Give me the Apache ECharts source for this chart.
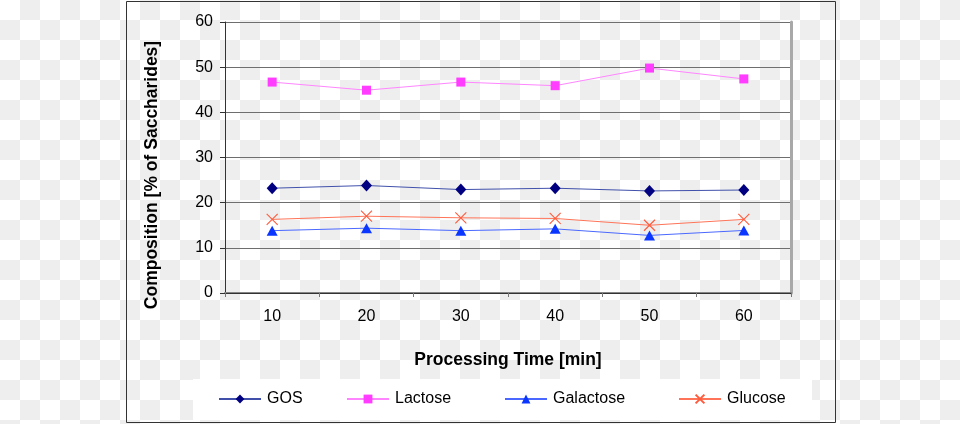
<!DOCTYPE html>
<html>
<head>
<meta charset="utf-8">
<script src="https://cdn.jsdelivr.net/npm/echarts@6/dist/echarts.min.js"></script>
<style>
html,body{margin:0;padding:0;width:960px;height:424px;overflow:hidden;
background-color:#fff;
background-image:conic-gradient(#eeeeee 25%, #ffffff 0 50%, #eeeeee 0 75%, #ffffff 0);
background-size:40px 40px;background-position:0 0;}
#chart{width:960px;height:424px;}
</style>
</head>
<body>
<div id="chart"></div>
<script>
const categories = ['10', '20', '30', '40', '50', '60'];
const gos = [23.2, 23.8, 22.9, 23.2, 22.6, 22.8];
const lactose = [46.7, 44.9, 46.7, 45.9, 49.8, 47.4];
const galactose = [13.8, 14.35, 13.8, 14.2, 12.75, 13.85];
const glucose = [16.3, 17.0, 16.65, 16.5, 15.0, 16.3];
const seriesNames = ['GOS', 'Lactose', 'Galactose', 'Glucose'];
const yMin = 0, yMax = 60, yStep = 10;
const xTitle = 'Processing Time [min]';
const yTitle = 'Composition [% of Saccharides]';

const FONT = '"Liberation Sans", Arial, sans-serif';
const crossPath = 'path://M0,0L10,10M10,0L0,10';

const chart = echarts.init(document.getElementById('chart'), null, {renderer: 'canvas'});

function legendFor(name, left) {
  return {
    data: [name], left: left, top: 391, padding: 0,
    itemWidth: 42, itemHeight: 11, itemGap: 0,
    textStyle: {fontFamily: FONT, fontSize: 16, color: '#000', lineHeight: 16, padding: [0, 0, 0, 1]}
  };
}

chart.setOption({
  backgroundColor: 'transparent',
  animation: false,
  textStyle: {fontFamily: FONT},
  graphic: [
    {type: 'rect', z: 0, silent: true,
     shape: {x: 126.5, y: 1.5, width: 709, height: 421},
     style: {fill: 'none', stroke: '#333', lineWidth: 1}},
    {type: 'rect', z: 0, silent: true,
     shape: {x: 193, y: 379, width: 619, height: 41},
     style: {fill: '#fff'}},
    {type: 'text', z: 5, silent: true, x: 152, y: 175, rotation: Math.PI / 2,
     style: {text: yTitle, font: 'bold 17.5px ' + FONT, fill: '#000',
             align: 'center', verticalAlign: 'middle'}}
  ],
  legend: [
    legendFor('GOS', 218),
    legendFor('Lactose', 346),
    legendFor('Galactose', 504),
    legendFor('Glucose', 678)
  ],
  grid: {left: 225, top: 22, right: 169, bottom: 131, containLabel: false},
  xAxis: [{
    type: 'category', data: categories, boundaryGap: true, position: 'bottom',
    name: xTitle, nameLocation: 'middle', nameGap: 58,
    nameTextStyle: {fontFamily: FONT, fontSize: 17.5, fontWeight: 'bold', color: '#000'},
    axisLine: {lineStyle: {color: '#858585', width: 2}},
    axisTick: {show: true, length: 4, lineStyle: {color: '#777', width: 1}},
    axisLabel: {fontFamily: FONT, fontSize: 16, color: '#000', margin: 16},
    splitLine: {show: false}
  }, {
    type: 'category', data: categories, boundaryGap: true, position: 'top',
    axisLine: {lineStyle: {color: '#333', width: 1}},
    axisTick: {show: false}, axisLabel: {show: false}, splitLine: {show: false}
  }],
  yAxis: [{
    type: 'value', min: yMin, max: yMax, interval: yStep, position: 'left',
    axisLine: {show: true, lineStyle: {color: '#333', width: 1}},
    axisTick: {show: true, length: 5, lineStyle: {color: '#333'}},
    axisLabel: {fontFamily: FONT, fontSize: 16, color: '#000', margin: 12},
    splitLine: {show: true, lineStyle: {color: '#6e6e6e', width: 1}}
  }, {
    type: 'value', min: yMin, max: yMax, interval: yStep, position: 'right',
    axisLine: {show: true, lineStyle: {color: '#a8a8a8', width: 3}},
    axisTick: {show: false}, axisLabel: {show: false}, splitLine: {show: false}
  }],
  series: [{
    name: seriesNames[0], type: 'line', data: gos, z: 5,
    symbol: 'diamond', symbolSize: [11, 12], showAllSymbol: true,
    itemStyle: {color: '#000080'},
    lineStyle: {color: '#4050aa', width: 1}
  }, {
    name: seriesNames[1], type: 'line', data: lactose, z: 5,
    symbol: 'rect', symbolSize: 9,
    itemStyle: {color: '#ff3cff'},
    lineStyle: {color: '#ff85ff', width: 1}
  }, {
    name: seriesNames[2], type: 'line', data: galactose, z: 5,
    symbol: 'triangle', symbolSize: [11, 10],
    itemStyle: {color: '#0a36ff'},
    lineStyle: {color: '#4a68ff', width: 1}
  }, {
    name: seriesNames[3], type: 'line', data: glucose, z: 5,
    symbol: crossPath, symbolSize: 11,
    itemStyle: {color: '#ff5a3c', borderColor: '#ff5a3c', borderWidth: 1.1},
    lineStyle: {color: '#ff7458', width: 1}
  }]
});
</script>
</body>
</html>
